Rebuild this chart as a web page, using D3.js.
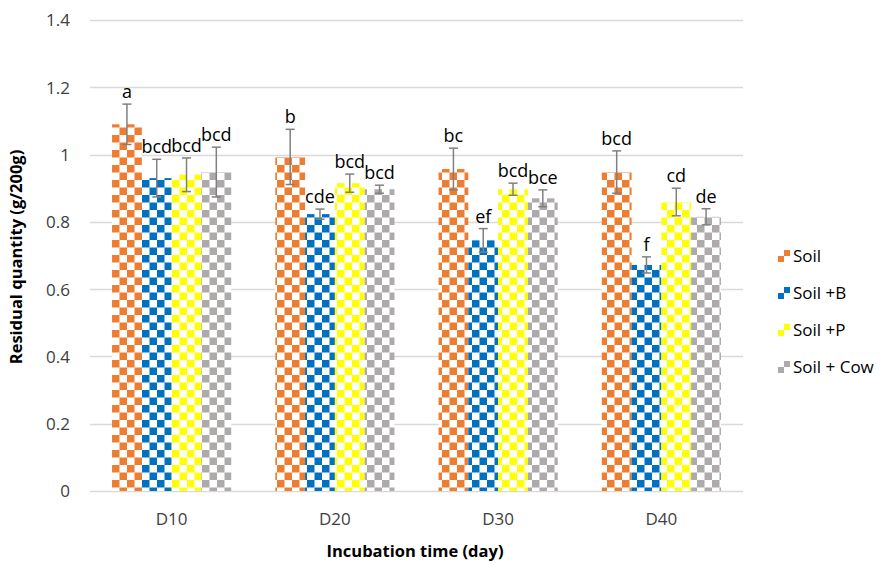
<!DOCTYPE html>
<html>
<head>
<meta charset="utf-8">
<script src="https://cdn.jsdelivr.net/npm/d3@7"></script>
<style>
  body { margin: 0; background: #fff; }
  svg { font-family: "Open Sans", sans-serif; }
</style>
</head>
<body>
<script>
var w = 880, h = 566;
var font = '"Open Sans", sans-serif';

// data
var days = ['D10', 'D20', 'D30', 'D40'];
var series = ['Soil', 'Soil +B', 'Soil +P', 'Soil + Cow'];
var colors = ['#ED7D31', '#0070C0', '#FFFF00', '#AEAAAA'];
var soil    = [1.09, 0.993, 0.957, 0.948];
var soilB   = [0.93, 0.823, 0.745, 0.672];
var soilP   = [0.94, 0.915, 0.897, 0.859];
var soilCow = [0.948, 0.897, 0.87, 0.815];
var errSoil    = [0.06, 0.082, 0.062, 0.063];
var errSoilB   = [0.056, 0.015, 0.035, 0.024];
var errSoilP   = [0.05, 0.027, 0.018, 0.041];
var errSoilCow = [0.074, 0.012, 0.025, 0.024];
var lettersSoil    = ['a', 'b', 'bc', 'bcd'];
var lettersSoilB   = ['bcd', 'cde', 'ef', 'f'];
var lettersSoilP   = ['bcd', 'bcd', 'bcd', 'cd'];
var lettersSoilCow = ['bcd', 'bcd', 'bce', 'de'];
var yTicks = [0, 0.2, 0.4, 0.6, 0.8, 1, 1.2, 1.4];

var values = [soil, soilB, soilP, soilCow];
var errs = [errSoil, errSoilB, errSoilP, errSoilCow];
var letters = [lettersSoil, lettersSoilB, lettersSoilP, lettersSoilCow];

var rows = [];
days.forEach(function(d, i) {
    series.forEach(function(s, j) {
        rows.push({day: d, s: s, k: j, v: values[j][i], e: errs[j][i], t: letters[j][i]});
    });
});

var svg = d3.select('body').append('svg').attr('width', w).attr('height', h);

// checker patterns
var defs = svg.append('defs');
colors.forEach(function(c, j) {
    var p = defs.append('pattern').attr('id', 'chk' + j)
        .attr('patternUnits', 'userSpaceOnUse')
        .attr('width', 15).attr('height', 15)
        .attr('x', 112).attr('y', 0);
    p.append('rect').attr('width', 15).attr('height', 15).attr('fill', '#fff');
    p.append('rect').attr('x', 0).attr('y', 0).attr('width', 7.5).attr('height', 7.5).attr('fill', c);
    p.append('rect').attr('x', 7.5).attr('y', 7.5).attr('width', 7.5).attr('height', 7.5).attr('fill', c);
    var q = defs.append('pattern').attr('id', 'leg' + j)
        .attr('patternUnits', 'userSpaceOnUse')
        .attr('width', 12).attr('height', 12).attr('x', 0).attr('y', 0);
    q.append('rect').attr('width', 12).attr('height', 12).attr('fill', '#fff');
    q.append('rect').attr('x', 6).attr('y', 0).attr('width', 6).attr('height', 6).attr('fill', c);
    q.append('rect').attr('x', 0).attr('y', 6).attr('width', 6).attr('height', 6).attr('fill', c);
});

var y = d3.scaleLinear().domain([0, 1.4]).range([491, 20]);
var x0 = d3.scaleBand().domain(days).range([90, 743]).paddingInner(0.27).paddingOuter(0.135);
var x1 = d3.scaleBand().domain(series).range([0, x0.bandwidth()]);

// gridlines
svg.append('g').selectAll('line').data(yTicks).enter().append('line')
    .attr('x1', 90).attr('x2', 743)
    .attr('y1', function(d) { return Math.round(y(d)) + 0.5; })
    .attr('y2', function(d) { return Math.round(y(d)) + 0.5; })
    .attr('stroke', '#d9d9d9').attr('stroke-width', 1.3);

// y axis
var yAxis = svg.append('g').attr('transform', 'translate(70,0)')
    .call(d3.axisLeft(y).tickValues(yTicks).tickSize(0).tickPadding(0)
        .tickFormat(function(d) { return d3.format('~g')(d); }));
yAxis.select('.domain').remove();
yAxis.selectAll('text').attr('font-size', 17).attr('fill', '#404040')
    .attr('font-family', font).attr('dy', '0.35em');

// x axis
var xAxis = svg.append('g').attr('transform', 'translate(0,491)')
    .call(d3.axisBottom(x0).tickSize(0).tickPadding(22));
xAxis.select('.domain').remove();
xAxis.selectAll('text').attr('font-size', 17).attr('fill', '#404040')
    .attr('font-family', font);

// bars
svg.append('g').selectAll('rect').data(rows).enter().append('rect')
    .attr('x', function(d) { return x0(d.day) + x1(d.s); })
    .attr('y', function(d) { return y(d.v); })
    .attr('width', x1.bandwidth())
    .attr('height', function(d) { return y(0) - y(d.v); })
    .attr('fill', function(d) { return 'url(#chk' + d.k + ')'; });

// error bars
var eb = svg.append('g').attr('stroke', '#808080').attr('stroke-width', 1.5);
rows.forEach(function(d) {
    var cx = x0(d.day) + x1(d.s) + x1.bandwidth() / 2;
    eb.append('line').attr('x1', cx).attr('x2', cx).attr('y1', y(d.v + d.e)).attr('y2', y(d.v - d.e));
    eb.append('line').attr('x1', cx - 4.5).attr('x2', cx + 4.5).attr('y1', y(d.v + d.e)).attr('y2', y(d.v + d.e));
    eb.append('line').attr('x1', cx - 4.5).attr('x2', cx + 4.5).attr('y1', y(d.v - d.e)).attr('y2', y(d.v - d.e));
});

// letter labels
svg.append('g').selectAll('text').data(rows).enter().append('text')
    .attr('x', function(d) { return x0(d.day) + x1(d.s) + x1.bandwidth() / 2; })
    .attr('y', function(d) { return y(d.v + d.e) - 6; })
    .attr('text-anchor', 'middle')
    .attr('font-size', 18).attr('fill', '#000')
    .text(function(d) { return d.t; });

// axis titles
svg.append('text').attr('transform', 'translate(22,257) rotate(-90)')
    .attr('text-anchor', 'middle').attr('font-size', 16.5).attr('font-weight', 'bold')
    .attr('fill', '#000').text('Residual quantity (g/200g)');
svg.append('text').attr('x', 415).attr('y', 557)
    .attr('text-anchor', 'middle').attr('font-size', 16.5).attr('font-weight', 'bold')
    .attr('fill', '#000').text('Incubation time (day)');

// legend
var leg = svg.append('g').selectAll('g').data(series).enter().append('g')
    .attr('transform', function(d, i) { return 'translate(778,' + (250 + i * 37) + ')'; });
leg.append('rect').attr('width', 12).attr('height', 12)
    .attr('fill', function(d, i) { return 'url(#leg' + i + ')'; });
leg.append('text').attr('x', 15).attr('y', 6).attr('dy', '0.35em')
    .attr('font-size', 17).attr('fill', '#000')
    .text(function(d) { return d; });
</script>
</body>
</html>
